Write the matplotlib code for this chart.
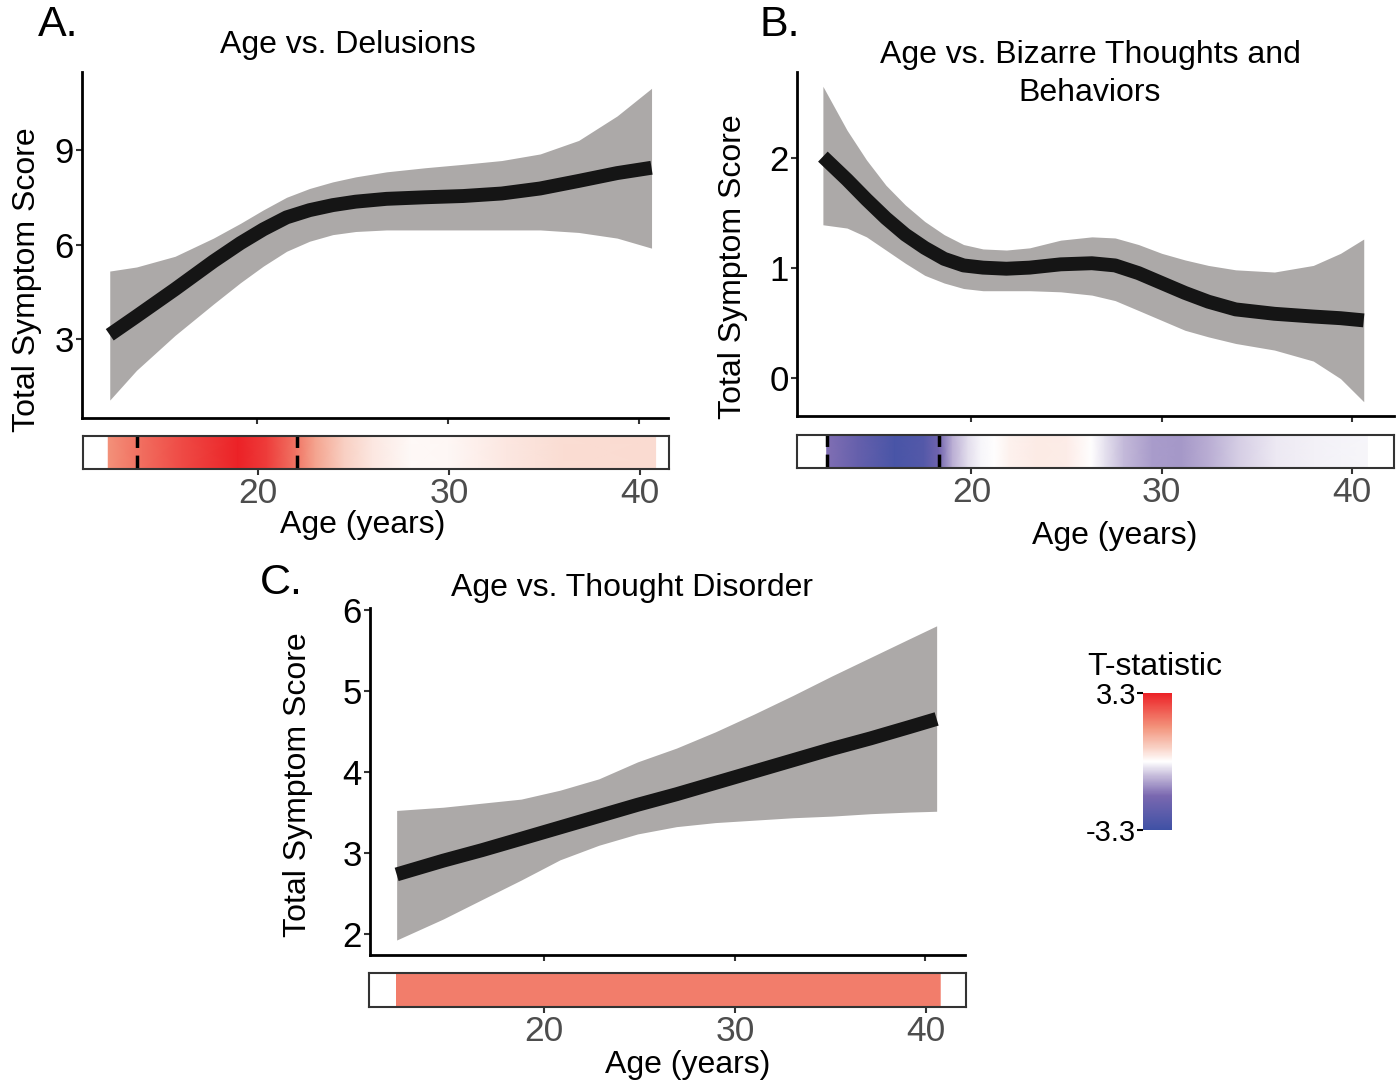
import numpy as np
import matplotlib
matplotlib.use("Agg")
import matplotlib.pyplot as plt
from matplotlib.colors import LinearSegmentedColormap, Normalize

plt.rcParams['font.family'] = ['Liberation Sans', 'DejaVu Sans']

# ---- data ----
ages_a = [12.33, 13.73, 15.74, 17.75, 19.16, 20.36, 21.57, 22.77, 23.98, 25.18, 26.79,
          28.8, 30.8, 32.81, 34.82, 36.83, 38.84, 40.64]
fit_a = [3.13, 3.72, 4.58, 5.47, 6.05, 6.49, 6.87, 7.10, 7.26, 7.37, 7.46,
         7.51, 7.55, 7.63, 7.79, 8.03, 8.28, 8.45]
upper_a = [5.16, 5.29, 5.63, 6.21, 6.68, 7.11, 7.51, 7.79, 8.00, 8.16, 8.32,
           8.45, 8.56, 8.68, 8.89, 9.32, 10.10, 10.98]
lower_a = [1.05, 2.00, 3.11, 4.11, 4.79, 5.32, 5.79, 6.11, 6.32, 6.42, 6.47,
           6.47, 6.47, 6.47, 6.47, 6.39, 6.21, 5.89]

ages_b = [12.2, 13.47, 14.49, 15.51, 16.53, 17.55, 18.57, 19.59, 20.61, 21.84, 23.06, 24.69,
          26.33, 27.55, 28.78, 30.0, 31.22, 32.45, 33.88, 35.92, 37.96, 39.39, 40.61]
fit_b = [2.01, 1.80, 1.62, 1.45, 1.30, 1.18, 1.08, 1.02, 1.00, 0.99, 1.00, 1.03,
         1.04, 1.02, 0.95, 0.86, 0.77, 0.69, 0.62, 0.58, 0.555, 0.54, 0.52]
upper_b = [2.65, 2.25, 1.98, 1.75, 1.57, 1.42, 1.30, 1.21, 1.17, 1.16, 1.18, 1.25,
           1.28, 1.27, 1.21, 1.13, 1.07, 1.02, 0.98, 0.96, 1.02, 1.13, 1.26]
lower_b = [1.39, 1.36, 1.28, 1.16, 1.04, 0.93, 0.86, 0.81, 0.79, 0.79, 0.79, 0.78,
           0.75, 0.70, 0.61, 0.52, 0.43, 0.37, 0.31, 0.25, 0.15, -0.01, -0.22]

ages_c = [12.24, 14.69, 16.73, 18.78, 20.82, 22.86, 24.9, 26.94, 28.98, 31.02, 33.06,
          35.1, 37.14, 39.18, 40.61]
fit_c = [2.74, 2.91, 3.04, 3.18, 3.32, 3.46, 3.60, 3.73, 3.87, 4.01, 4.15,
         4.29, 4.42, 4.56, 4.66]
upper_c = [3.53, 3.57, 3.62, 3.67, 3.78, 3.92, 4.13, 4.30, 4.50, 4.72, 4.95,
           5.19, 5.42, 5.65, 5.81]
lower_c = [1.93, 2.19, 2.43, 2.67, 2.92, 3.10, 3.24, 3.33, 3.38, 3.41, 3.44,
           3.46, 3.49, 3.51, 3.52]

# t-statistic along age (colour strips)
t_ages_a = [12.2, 14.0, 16.0, 19.0, 20.5, 22.0, 23.0, 24.5, 26.0, 28.0, 30.0, 33.0, 36.0, 40.8]
t_vals_a = [1.7, 2.2, 2.7, 3.3, 2.9, 2.1, 1.4, 0.7, 0.35, 0.1, 0.12, 0.35, 0.5, 0.52]
sig_a = [13.7, 22.05]

t_ages_b = [12.4, 14.0, 16.0, 17.5, 18.3, 19.0, 19.8, 20.5, 21.2, 22.0, 23.5, 25.0, 26.3, 27.0,
            28.0, 29.5, 31.0, 32.5, 34.0, 36.0, 38.0, 40.8]
t_vals_b = [-1.55, -2.2, -3.0, -2.7, -1.9, -0.85, -0.35, -0.1, 0.0, 0.2, 0.3, 0.28, 0.0, -0.3,
            -0.7, -1.05, -1.1, -0.85, -0.5, -0.22, -0.13, -0.1]
sig_b = [12.4, 18.3]

t_ages_c = [12.28, 20.0, 30.0, 40.75]
t_vals_c = [1.98, 1.97, 1.96, 1.97]

tick_ages = [20, 30, 40]
t_limits = [-3.3, 3.3]

# ---- style ----
W, H = 1398, 1087
cmap = LinearSegmentedColormap.from_list('tstat', [
    (0.0, '#3F51A5'), (0.25, '#7A68B0'), (0.4, '#C8BEDC'), (0.5, '#FFFFFF'),
    (0.6, '#F9D2C6'), (0.75, '#F3947C'), (1.0, '#EC2227')])
norm = Normalize(vmin=t_limits[0], vmax=t_limits[1])
band_col = '#ACA9A8'
line_col = '#151515'
TXT = 23


def px_axes(fig, left, top, right, bottom):
    return fig.add_axes([left / W, 1 - bottom / H, (right - left) / W, (bottom - top) / H])


def draw_curve(ax, ages, fit, lo, hi, xlim, ylim, yticks):
    ax.fill_between(ages, lo, hi, color=band_col, lw=0)
    ax.plot(ages, fit, color=line_col, lw=10, solid_capstyle='butt', solid_joinstyle='round')
    ax.set_xlim(xlim)
    ax.set_ylim(ylim)
    ax.set_xticks(tick_ages)
    ax.set_yticks(yticks)
    for s in ['top', 'right']:
        ax.spines[s].set_visible(False)
    for s in ['left', 'bottom']:
        ax.spines[s].set_linewidth(2)
        ax.spines[s].set_color('black')
    ax.tick_params(axis='x', labelbottom=False, length=4, width=1.5, color='#333333')
    ax.tick_params(axis='y', labelsize=25, length=4, width=1.5, color='#333333', pad=2)


def draw_strip(ax, t_ages, t_vals, xlim, sig=None):
    t_ages = np.asarray(t_ages)
    z = np.vstack([t_vals, t_vals])
    ax.pcolormesh(t_ages, [0, 1], z, cmap=cmap, norm=norm, shading='gouraud')
    if sig is not None:
        for s in sig:
            ax.axvline(s, color='black', lw=2.5, ls=(0, (4, 2.2)))
    ax.set_xlim(xlim)
    ax.set_ylim(0, 1)
    ax.set_yticks([])
    ax.set_xticks(tick_ages)
    for sp in ax.spines.values():
        sp.set_color('#333333')
        sp.set_linewidth(1.5)
    ax.tick_params(axis='x', labelsize=25.5, labelcolor='#4D4D4D', length=4, width=1.5,
                   color='#333333', pad=2)


fig = plt.figure(figsize=(W / 100, H / 100), dpi=100)

# Panel A
ax_a = px_axes(fig, 82, 72, 668, 418)
draw_curve(ax_a, ages_a, fit_a, lower_a, upper_a, (10.88, 41.5), (0.48, 11.5), [3, 6, 9])
st_a = px_axes(fig, 83, 436, 669, 469)
draw_strip(st_a, t_ages_a, t_vals_a, (10.88, 41.5), sig_a)

# Panel B
ax_b = px_axes(fig, 797, 72, 1394, 416)
draw_curve(ax_b, ages_b, fit_b, lower_b, upper_b, (10.84, 42.2), (-0.35, 2.78), [0, 1, 2])
st_b = px_axes(fig, 797, 435, 1394, 468)
draw_strip(st_b, t_ages_b, t_vals_b, (10.84, 42.2), sig_b)

# Panel C
ax_c = px_axes(fig, 370, 608, 965, 955)
draw_curve(ax_c, ages_c, fit_c, lower_c, upper_c, (10.84, 42.1), (1.745, 6.03), [2, 3, 4, 5, 6])
st_c = px_axes(fig, 369, 973, 966, 1007)
draw_strip(st_c, t_ages_c, t_vals_c, (10.84, 42.1))

# colour bar
cax = px_axes(fig, 1143, 693, 1172, 830)
sm = matplotlib.cm.ScalarMappable(norm=norm, cmap=cmap)
cb = fig.colorbar(sm, cax=cax, ticks=t_limits)
cb.outline.set_visible(False)
cax.yaxis.set_ticks_position('left')
cax.yaxis.set_label_position('left')
cax.set_yticklabels(['-3.3', '3.3'])
cax.tick_params(labelsize=21, length=4, width=1.5, color='black', pad=1)


def ftext(x, y, s, **kw):
    fig.text(x / W, 1 - y / H, s, **kw)


ftext(38, 25, 'A.', fontsize=31, va='center', ha='left')
ftext(760, 25, 'B.', fontsize=31, va='center', ha='left')
ftext(260, 583, 'C.', fontsize=31, va='center', ha='left')

ftext(348, 45, 'Age vs. Delusions', fontsize=TXT, ha='center', va='center')
ftext(1090, 74, 'Age vs. Bizarre Thoughts and\nBehaviors', fontsize=TXT, ha='center',
      va='center', linespacing=1.35)
ftext(632, 588, 'Age vs. Thought Disorder', fontsize=TXT, ha='center', va='center')

for x, y in [(27, 280), (733, 267), (298, 785)]:
    ftext(x, y, 'Total Symptom Score', fontsize=TXT, rotation=90, ha='center', va='center')
for x, y in [(363, 525), (1115, 536), (688, 1065)]:
    ftext(x, y, 'Age (years)', fontsize=TXT, ha='center', va='center')

ftext(1155, 667, 'T-statistic', fontsize=TXT, ha='center', va='center')

fig.savefig('out.png', dpi=100)
